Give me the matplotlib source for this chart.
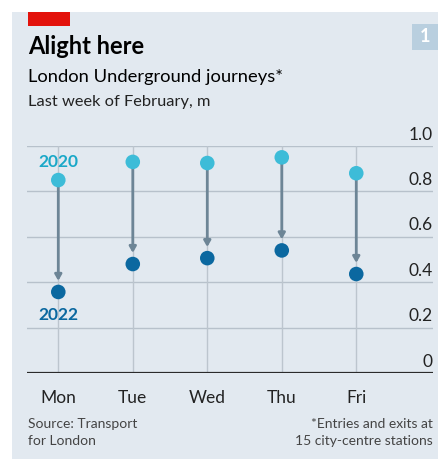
import matplotlib.pyplot as plt
from matplotlib.patches import Rectangle

days = ['Mon', 'Tue', 'Wed', 'Thu', 'Fri']
journeys_2020 = [0.85, 0.93, 0.925, 0.95, 0.88]
journeys_2022 = [0.357, 0.48, 0.506, 0.54, 0.436]
y_ticks = [0, 0.2, 0.4, 0.6, 0.8, 1.0]
y_labels = ['0', '0.2', '0.4', '0.6', '0.8', '1.0']

plt.rcParams['font.family'] = ['Lato', 'DejaVu Sans']

W, H = 439, 459
fig = plt.figure(figsize=(W / 100, H / 100), dpi=100)
fig.patch.set_facecolor('white')

# panel background, red tag and page badge
fig.patches.append(Rectangle((12 / W, 0), 1, 1 - 12 / H, transform=fig.transFigure,
                             facecolor='#e2e9f0', edgecolor='none', zorder=0))
fig.patches.append(Rectangle((28 / W, 1 - 26 / H), 42 / W, 14 / H, transform=fig.transFigure,
                             facecolor='#e3120b', edgecolor='none', zorder=1))
fig.patches.append(Rectangle((412 / W, 1 - 50 / H), 30 / W, 26 / H, transform=fig.transFigure,
                             facecolor='#b9cfdf', edgecolor='none', zorder=1))
fig.text(425 / W, 1 - 37 / H, '1', color='white', fontsize=13, fontweight='bold',
         ha='center', va='center')

fig.text(28 / W, 1 - 54 / H, 'Alight here', fontsize=17, fontweight='bold', color='black',
         va='baseline')
fig.text(28 / W, 1 - 82 / H, 'London Underground journeys*', fontsize=13.2, color='black',
         va='baseline')
fig.text(28 / W, 1 - 106 / H, 'Last week of February, m', fontsize=11.8, color='#222222',
         va='baseline')

ax = fig.add_axes([27 / W, (H - 373) / H, 406 / W, 227 / H])
ax.set_zorder(5)
ax.set_facecolor('none')
ax.set_xlim(-0.42, 5.03)
ax.set_ylim(0, 1.0)
ax.set_axis_off()

# horizontal gridlines and right-hand labels
for t, lab in zip(y_ticks, y_labels):
    if t == 0:
        ax.axhline(t, color='#2b2b2b', lw=1.6, zorder=2)
    else:
        ax.axhline(t, color='#b7c1cb', lw=1.0, zorder=1)
    ax.text(1.0, t + 0.015, lab, transform=ax.get_yaxis_transform(), ha='right', va='bottom',
            fontsize=12.5, color='#222222')

x = list(range(len(days)))
for i in x:
    ax.plot([i, i], [0, 1.0], color='#bcc5ce', lw=1.0, zorder=1)
    ax.annotate('', xy=(i, journeys_2022[i]), xytext=(i, journeys_2020[i]),
                arrowprops=dict(arrowstyle='-|>,head_length=0.35,head_width=0.2',
                                color='#6d8596', lw=2.0, shrinkA=0, shrinkB=8),
                zorder=3)
    ax.text(i, -0.075, days[i], ha='center', va='top', fontsize=12.5, color='#222222',
            clip_on=False)

ax.scatter(x, journeys_2020, s=110, color='#3dbcd8', zorder=4, edgecolor='none')
ax.scatter(x, journeys_2022, s=110, color='#0b68a0', zorder=4, edgecolor='none')

ax.text(0, 0.93, '2020', color='#1aa8c8', fontsize=12.5, fontweight='bold', ha='center', va='center')
ax.text(0, 0.255, '2022', color='#0b68a0', fontsize=12.5, fontweight='bold', ha='center', va='center')

fig.text(28 / W, 1 - 428 / H, 'Source: Transport', fontsize=10, color='#444444', va='baseline')
fig.text(28 / W, 1 - 445 / H, 'for London', fontsize=10, color='#444444', va='baseline')
fig.text(433 / W, 1 - 428 / H, '*Entries and exits at', fontsize=10, color='#444444',
         va='baseline', ha='right')
fig.text(433 / W, 1 - 445 / H, '15 city-centre stations', fontsize=10, color='#444444',
         va='baseline', ha='right')

fig.savefig('out.png', dpi=100)
